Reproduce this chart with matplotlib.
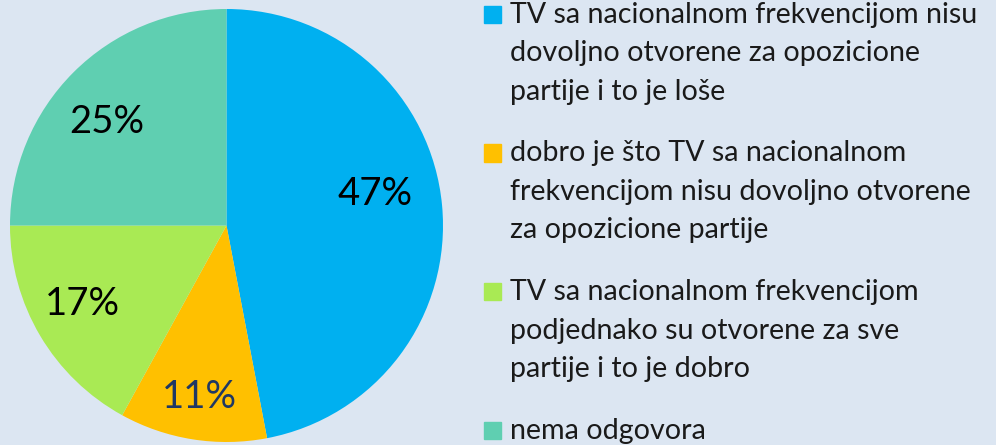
import matplotlib
matplotlib.use("Agg")
import numpy as np
import matplotlib.pyplot as plt
from matplotlib.patches import Rectangle

# --- Data ---
categories = [
    ["TV sa nacionalnom frekvencijom nisu", "dovoljno otvorene za opozicione", "partije i to je loše"],
    ["dobro je što TV sa nacionalnom", "frekvencijom nisu dovoljno otvorene", "za opozicione partije"],
    ["TV sa nacionalnom frekvencijom", "podjednako su otvorene za sve", "partije i to je dobro"],
    ["nema odgovora"],
]
values = [47, 11, 17, 25]
colors = ["#00B0F0", "#FFC000", "#A9EA54", "#5FCFB1"]
label_colors = ["black", "#1F3864", "black", "black"]

# label placement tweaks (Excel does not put them exactly at wedge middle)
label_r = [0.70, 0.80, 0.76, 0.73]
label_dang = [6.5, 0, -2.0, 4]

BG = "#DCE6F2"
plt.rcParams["font.family"] = ["Lato", "DejaVu Sans"]

W, H = 996, 445
fig = plt.figure(figsize=(W / 100, H / 100), dpi=100, facecolor=BG)

# --- Pie ---
ax = fig.add_axes([10 / W, 3 / H, 433 / W, 433 / H])
ax.set_facecolor(BG)
wedges, _ = ax.pie(
    values, colors=colors, startangle=90, counterclock=False,
    radius=1.0, wedgeprops=dict(linewidth=0),
)
for w, v, c, r, da in zip(wedges, values, label_colors, label_r, label_dang):
    ang = np.deg2rad((w.theta1 + w.theta2) / 2 + da)
    ax.text(r * np.cos(ang), r * np.sin(ang), f"{v}%", fontsize=27.5,
            color=c, ha="center", va="center")
ax.set_aspect("equal")
ax.set_xlim(-1, 1)
ax.set_ylim(-1, 1)
ax.axis("off")

# --- Legend (drawn by hand so markers sit on first line) ---
line_h = 38.5
gap = 23
ytop = 23  # baseline of first line, px from top
for lines, col in zip(categories, colors):
    fig.patches.append(Rectangle((484 / W, 1 - ytop / H), 17 / W, 17 / H,
                                 transform=fig.transFigure, color=col))
    for line in lines:
        fig.text(510 / W, 1 - ytop / H, line, fontsize=20.6, va="baseline",
                 ha="left", color="#1a1a1a")
        ytop += line_h
    ytop += gap

fig.savefig("out.png", dpi=100, facecolor=BG)
